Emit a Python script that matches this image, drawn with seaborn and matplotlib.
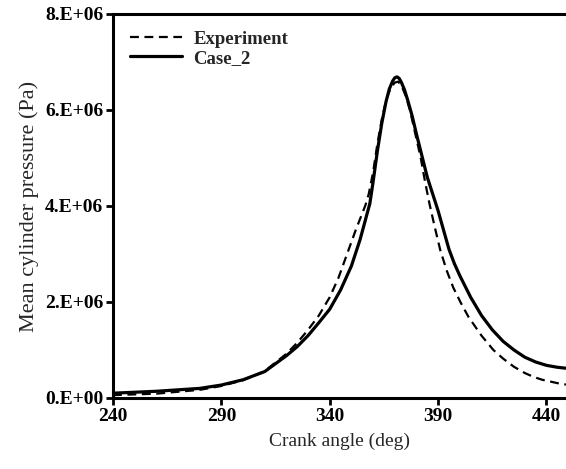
import matplotlib
matplotlib.use("Agg")
import matplotlib.pyplot as plt
from matplotlib.ticker import FuncFormatter, MultipleLocator, FixedLocator
import seaborn as sns
import pandas as pd

# Data (pressure in Pa)
exp_angle = [240, 260, 280, 290, 300, 310, 320, 325, 330, 335, 340, 344, 348,
             352, 356.5, 358, 360, 362, 364, 366, 368, 370, 371.5, 373, 375,
             377, 379.5, 382, 384, 386, 388.5, 391, 394, 397, 400.5, 404, 410,
             415.5, 420, 425, 430, 434, 438, 442, 446, 449]
exp_p = [0.06e6, 0.09e6, 0.17e6, 0.25e6, 0.37e6, 0.56e6, 0.92e6, 1.15e6,
         1.42e6, 1.72e6, 2.1e6, 2.5e6, 3.0e6, 3.5e6, 4.02e6, 4.25e6, 4.7e6,
         5.3e6, 5.8e6, 6.2e6, 6.45e6, 6.57e6, 6.59e6, 6.52e6, 6.3e6, 6.0e6,
         5.5e6, 5.0e6, 4.5e6, 4.05e6, 3.55e6, 3.08e6, 2.65e6, 2.3e6, 1.98e6,
         1.69e6, 1.3e6, 1.0e6, 0.82e6, 0.65e6, 0.52e6, 0.44e6, 0.38e6,
         0.34e6, 0.3e6, 0.28e6]

case_angle = [240, 260, 280, 290, 300, 310, 320, 325, 330, 335, 340, 345,
              350, 354, 358.5, 360, 362, 364, 366, 367.5, 369, 370, 371, 372,
              373, 374.5, 376, 378, 380, 382.5, 385, 387.5, 390, 392.5, 395,
              397.5, 400, 405, 410, 415, 420, 425, 430, 435, 440, 445, 449]
case_p = [0.10e6, 0.14e6, 0.20e6, 0.27e6, 0.38e6, 0.55e6, 0.88e6, 1.07e6,
          1.3e6, 1.57e6, 1.85e6, 2.25e6, 2.75e6, 3.3e6, 4.05e6, 4.5e6,
          5.15e6, 5.72e6, 6.18e6, 6.44e6, 6.6e6, 6.67e6, 6.69e6, 6.66e6,
          6.58e6, 6.42e6, 6.2e6, 5.88e6, 5.5e6, 5.05e6, 4.6e6, 4.25e6,
          3.9e6, 3.5e6, 3.1e6, 2.8e6, 2.55e6, 2.1e6, 1.72e6, 1.42e6, 1.18e6,
          1.0e6, 0.85e6, 0.75e6, 0.68e6, 0.64e6, 0.62e6]

series_names = ["Experiment", "Case_2"]
x_ticks = [240, 290, 340, 390, 440]

df = pd.concat([
    pd.DataFrame({"angle": exp_angle, "p": exp_p, "series": series_names[0]}),
    pd.DataFrame({"angle": case_angle, "p": case_p, "series": series_names[1]}),
])

sns.set_style("ticks")
plt.rcParams["font.family"] = ["Liberation Serif", "DejaVu Serif"]

fig = plt.figure(figsize=(5.66, 4.69), dpi=100)
ax = fig.add_axes([0.1996, 0.1514, 0.8004, 0.8188])

sns.lineplot(data=df[df.series == "Experiment"], x="angle", y="p", ax=ax,
             color="black", lw=1.6, label="Experiment", sort=False)
ax.lines[-1].set_dashes([4, 2.5])
sns.lineplot(data=df[df.series == "Case_2"], x="angle", y="p", ax=ax,
             color="black", lw=2.3, label="Case_2", sort=False)

ax.set_xlim(240, 449)
ax.set_ylim(0, 8e6)
ax.xaxis.set_major_locator(FixedLocator(x_ticks))
ax.yaxis.set_major_locator(MultipleLocator(2e6))

def yfmt(v, pos):
    if v == 0:
        return "0.E+00"
    return f"{int(round(v / 1e6))}.E+06"

ax.yaxis.set_major_formatter(FuncFormatter(yfmt))

for s in ["left", "bottom", "top"]:
    ax.spines[s].set_linewidth(2.2)
    ax.spines[s].set_color("black")
ax.spines["right"].set_visible(False)

ax.tick_params(axis="both", direction="out", length=5, width=2, labelsize=14,
               colors="black", pad=2)
for lab in ax.get_xticklabels() + ax.get_yticklabels():
    lab.set_fontweight("bold")

ax.set_xlabel("Crank angle (deg)", fontsize=14, labelpad=6)
ax.set_ylabel("Mean cylinder pressure (Pa)", fontsize=16, labelpad=4)

leg = ax.legend(loc="upper left", frameon=False, handlelength=2.8,
                borderaxespad=0.5, labelspacing=0.1, handletextpad=0.6,
                prop={"weight": "bold", "size": 13.5})
for h in leg.get_lines():
    h.set_color("black")

fig.savefig("out.png", dpi=100)
